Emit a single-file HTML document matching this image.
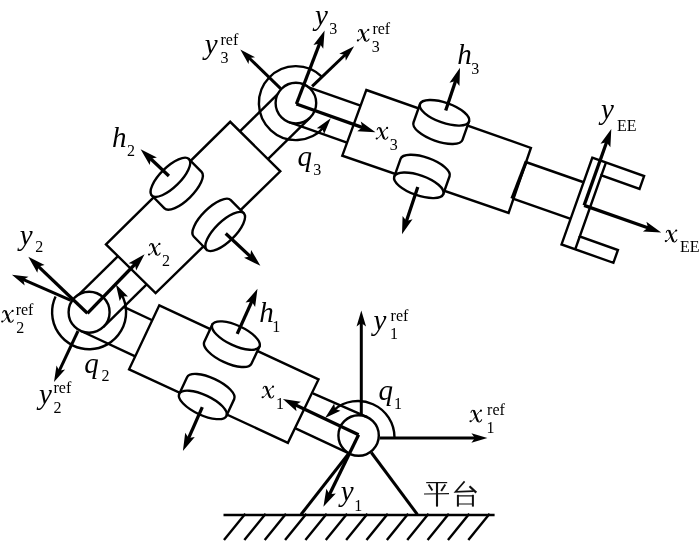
<!DOCTYPE html>
<html><head><meta charset="utf-8"><title>diagram</title>
<style>
html,body{margin:0;padding:0;background:#fff;}
svg{display:block;will-change:transform;filter:grayscale(1);}
text{font-family:"Liberation Serif",serif;fill:#000;stroke:none;}
</style></head><body>
<svg width="700" height="542" viewBox="0 0 700 542" stroke="#000" fill="none">
<rect x="0" y="0" width="700" height="542" fill="#fff" stroke="none"/>
<line x1="223.5" y1="515" x2="494.6" y2="515" stroke-width="2.6" stroke-linecap="butt"/>
<line x1="245.3" y1="513.7" x2="224" y2="540" stroke-width="2.4" stroke-linecap="butt"/>
<line x1="265.66" y1="513.7" x2="244.36" y2="540" stroke-width="2.4" stroke-linecap="butt"/>
<line x1="286.02" y1="513.7" x2="264.72" y2="540" stroke-width="2.4" stroke-linecap="butt"/>
<line x1="306.38" y1="513.7" x2="285.08" y2="540" stroke-width="2.4" stroke-linecap="butt"/>
<line x1="326.74" y1="513.7" x2="305.44" y2="540" stroke-width="2.4" stroke-linecap="butt"/>
<line x1="347.1" y1="513.7" x2="325.8" y2="540" stroke-width="2.4" stroke-linecap="butt"/>
<line x1="367.46" y1="513.7" x2="346.16" y2="540" stroke-width="2.4" stroke-linecap="butt"/>
<line x1="387.82" y1="513.7" x2="366.52" y2="540" stroke-width="2.4" stroke-linecap="butt"/>
<line x1="408.18" y1="513.7" x2="386.88" y2="540" stroke-width="2.4" stroke-linecap="butt"/>
<line x1="428.54" y1="513.7" x2="407.24" y2="540" stroke-width="2.4" stroke-linecap="butt"/>
<line x1="448.9" y1="513.7" x2="427.6" y2="540" stroke-width="2.4" stroke-linecap="butt"/>
<line x1="469.26" y1="513.7" x2="447.96" y2="540" stroke-width="2.4" stroke-linecap="butt"/>
<line x1="489.62" y1="513.7" x2="468.32" y2="540" stroke-width="2.4" stroke-linecap="butt"/>
<line x1="349.5" y1="452.5" x2="301" y2="514.5" stroke-width="3.0" stroke-linecap="butt"/>
<line x1="371.3" y1="452.5" x2="417.4" y2="514.5" stroke-width="3.0" stroke-linecap="butt"/>
<line x1="294.98" y1="428.12" x2="350.06" y2="453.81" stroke-width="2.4" stroke-linecap="butt"/>
<line x1="152.25" y1="320.24" x2="123.71" y2="306.93" stroke-width="2.4" stroke-linecap="butt"/>
<line x1="135.22" y1="356.33" x2="80.44" y2="330.78" stroke-width="2.4" stroke-linecap="butt"/>
<path d="M159.3 305.3 L318.5 379.4 L287.9 442.8 L129.1 369.3 Z" stroke-width="2.4" fill="#fff" stroke-linejoin="miter"/>
<line x1="75.29" y1="298.15" x2="118" y2="256.18" stroke-width="2.4" stroke-linecap="butt"/>
<line x1="103.47" y1="326.82" x2="146.69" y2="284.35" stroke-width="2.4" stroke-linecap="butt"/>
<line x1="282.51" y1="89.48" x2="239.88" y2="131.37" stroke-width="2.4" stroke-linecap="butt"/>
<line x1="310.13" y1="117.58" x2="267.91" y2="159.06" stroke-width="2.4" stroke-linecap="butt"/>
<path d="M106 244.4 L230.2 121.8 L280.3 171.3 L155.6 293.1 Z" stroke-width="2.4" fill="#fff" stroke-linejoin="miter"/>
<line x1="302.28" y1="85.1" x2="360.55" y2="105.73" stroke-width="2.4" stroke-linecap="butt"/>
<line x1="289.12" y1="122.24" x2="347.03" y2="142.74" stroke-width="2.4" stroke-linecap="butt"/>
<path d="M366.3 90 L530.9 147.9 L508.6 212.9 L342.3 155.7 Z" stroke-width="2.4" fill="#fff" stroke-linejoin="miter"/>
<line x1="525.7" y1="162" x2="582.9" y2="182" stroke-width="2.4" stroke-linecap="butt"/>
<line x1="512.9" y1="198.6" x2="570" y2="218.6" stroke-width="2.4" stroke-linecap="butt"/>
<line x1="526.3" y1="161.4" x2="512" y2="198.6" stroke-width="3.3" stroke-linecap="butt"/>
<path d="M592.26 157.74 L644.1 176.1 L639.56 188.92 L601.38 175.4 L579.75 236.48 L617.93 250 L613.39 262.82 L561.54 244.46 Z" stroke-width="2.4" fill="#fff" stroke-linejoin="miter"/>
<line x1="601.38" y1="175.4" x2="605.92" y2="162.58" stroke-width="2.4" stroke-linecap="butt"/>
<line x1="579.75" y1="236.48" x2="575.21" y2="249.3" stroke-width="2.4" stroke-linecap="butt"/>
<g transform="translate(170.4 177.3) rotate(-44.5)">
<path d="M-26 0 L-26 18 A26 10 0 0 0 26 18 L26 0 Z" fill="#fff" stroke-width="2.4"/>
<ellipse cx="0" cy="0" rx="26" ry="10" fill="#fff" stroke-width="2.4"/>
</g>
<g transform="translate(225.2 231.5) rotate(-44.5)">
<path d="M-26 0 L-26 -18.5 A26 10 0 0 1 26 -18.5 L26 0 Z" fill="#fff" stroke-width="2.4"/>
<ellipse cx="0" cy="0" rx="26" ry="10" fill="#fff" stroke-width="2.4"/>
</g>
<g transform="translate(444.5 112.8) rotate(19.5)">
<path d="M-26 0 L-26 19.5 A26 10 0 0 0 26 19.5 L26 0 Z" fill="#fff" stroke-width="2.4"/>
<ellipse cx="0" cy="0" rx="26" ry="10" fill="#fff" stroke-width="2.4"/>
</g>
<g transform="translate(418.8 185.3) rotate(19.5)">
<path d="M-26 0 L-26 -18.8 A26 10 0 0 1 26 -18.8 L26 0 Z" fill="#fff" stroke-width="2.4"/>
<ellipse cx="0" cy="0" rx="26" ry="10" fill="#fff" stroke-width="2.4"/>
</g>
<g transform="translate(235.9 335.6) rotate(25)">
<path d="M-26 0 L-26 19 A26 10 0 0 0 26 19 L26 0 Z" fill="#fff" stroke-width="2.4"/>
<ellipse cx="0" cy="0" rx="26" ry="10" fill="#fff" stroke-width="2.4"/>
</g>
<g transform="translate(202.8 404.9) rotate(25)">
<path d="M-26 0 L-26 -18.5 A26 10 0 0 1 26 -18.5 L26 0 Z" fill="#fff" stroke-width="2.4"/>
<ellipse cx="0" cy="0" rx="26" ry="10" fill="#fff" stroke-width="2.4"/>
</g>
<line x1="168.9" y1="176" x2="150.4" y2="158.48" stroke-width="3.3" stroke-linecap="butt"/>
<path d="M140.6 149.2 L156.92 157.42 L150.77 158.83 L149.7 165.04 Z" fill="#000" stroke="none"/>
<line x1="225.7" y1="233.5" x2="250.52" y2="256.6" stroke-width="3.3" stroke-linecap="butt"/>
<path d="M260.4 265.8 L244.01 257.72 L250.15 256.26 L251.17 250.03 Z" fill="#000" stroke="none"/>
<line x1="445.7" y1="110.6" x2="455.73" y2="80.51" stroke-width="3.3" stroke-linecap="butt"/>
<path d="M460 67.7 L459.45 85.96 L455.57 80.98 L449.49 82.64 Z" fill="#000" stroke="none"/>
<line x1="417.8" y1="187" x2="406.29" y2="221.4" stroke-width="3.3" stroke-linecap="butt"/>
<path d="M402 234.2 L402.58 215.94 L406.44 220.92 L412.53 219.27 Z" fill="#000" stroke="none"/>
<line x1="237.2" y1="333.9" x2="251.96" y2="301.11" stroke-width="3.3" stroke-linecap="butt"/>
<path d="M257.5 288.8 L255.1 306.91 L251.75 301.57 L245.53 302.6 Z" fill="#000" stroke="none"/>
<line x1="202.3" y1="407.2" x2="188.38" y2="438.56" stroke-width="3.3" stroke-linecap="butt"/>
<path d="M182.9 450.9 L185.2 432.78 L188.58 438.1 L194.8 437.04 Z" fill="#000" stroke="none"/>
<circle cx="358.6" cy="435.5" r="20.2" stroke-width="2.4" fill="#fff"/>
<line x1="312.9" y1="393.3" x2="367.2" y2="417.1" stroke-width="2.4" stroke-linecap="butt"/>
<path d="M394.5 437.5 A36.5 36.5 0 0 0 333.88 410.11" stroke-width="2.4" fill="none"/>
<path d="M325 418.06 L334.19 403.56 L335.1 409.1 L340.49 410.66 Z" fill="#000" stroke="none"/>
<path d="M55.57 296.56 A37 37 0 1 0 121.67 294.65" stroke-width="2.4" fill="none"/>
<path d="M115.82 284.34 L127.99 296.45 L122.38 296.14 L119.69 301.07 Z" fill="#000" stroke="none"/>
<circle cx="89.1" cy="312.2" r="20.5" stroke-width="2.4" fill="#fff"/>
<path d="M322.06 76.94 A37 37 0 1 0 323.66 127.56" stroke-width="2.4" fill="none"/>
<path d="M330.75 118.25 L324.16 134.11 L322.32 128.8 L316.74 128.18 Z" fill="#000" stroke="none"/>
<circle cx="295.9" cy="103.1" r="20.3" stroke-width="2.4" fill="#fff"/>
<!--AXES-->
<line x1="361.3" y1="415" x2="361.3" y2="322.5" stroke-width="3.0" stroke-linecap="butt"/>
<path d="M361.3 310.5 L366.05 326.5 L361.3 323 L356.55 326.5 Z" fill="#000" stroke="none"/>
<line x1="379.6" y1="437.9" x2="475.4" y2="437.9" stroke-width="3.0" stroke-linecap="butt"/>
<path d="M487.4 437.9 L471.4 442.65 L474.9 437.9 L471.4 433.15 Z" fill="#000" stroke="none"/>
<line x1="358.6" y1="434.7" x2="295.1" y2="404.67" stroke-width="3.3" stroke-linecap="butt"/>
<path d="M282.9 398.9 L300.96 401.64 L295.56 404.89 L296.48 411.13 Z" fill="#000" stroke="none"/>
<line x1="358.6" y1="434.7" x2="329.32" y2="494.67" stroke-width="3.3" stroke-linecap="butt"/>
<path d="M323.4 506.8 L326.36 488.77 L329.54 494.22 L335.8 493.38 Z" fill="#000" stroke="none"/>
<line x1="87.4" y1="313.3" x2="135.2" y2="263.99" stroke-width="3.3" stroke-linecap="butt"/>
<path d="M144.6 254.3 L136.19 270.52 L134.86 264.35 L128.65 263.21 Z" fill="#000" stroke="none"/>
<line x1="87.4" y1="313.3" x2="38.06" y2="266.13" stroke-width="3.3" stroke-linecap="butt"/>
<path d="M28.3 256.8 L44.58 265.1 L38.42 266.47 L37.32 272.69 Z" fill="#000" stroke="none"/>
<line x1="70.9" y1="300.3" x2="22.91" y2="279.48" stroke-width="3.0" stroke-linecap="butt"/>
<path d="M11.9 274.7 L28.47 276.71 L23.37 279.68 L24.69 285.43 Z" fill="#000" stroke="none"/>
<line x1="78" y1="331" x2="59.11" y2="371.14" stroke-width="3.0" stroke-linecap="butt"/>
<path d="M54 382 L56.51 365.5 L59.32 370.69 L65.11 369.55 Z" fill="#000" stroke="none"/>
<line x1="296.4" y1="104" x2="319.76" y2="43.1" stroke-width="3.3" stroke-linecap="butt"/>
<path d="M324.6 30.5 L323.23 48.72 L319.59 43.57 L313.43 44.96 Z" fill="#000" stroke="none"/>
<line x1="296.4" y1="104" x2="362.78" y2="127.67" stroke-width="3.3" stroke-linecap="butt"/>
<path d="M375.5 132.2 L357.25 131.27 L362.31 127.5 L360.78 121.38 Z" fill="#000" stroke="none"/>
<line x1="312.1" y1="86.4" x2="345.43" y2="54.5" stroke-width="3.0" stroke-linecap="butt"/>
<path d="M354.1 46.2 L345.83 60.69 L345.07 54.84 L339.26 53.83 Z" fill="#000" stroke="none"/>
<line x1="280.7" y1="88.6" x2="248.91" y2="57.76" stroke-width="3.0" stroke-linecap="butt"/>
<path d="M240.3 49.4 L255.09 57.13 L249.27 58.1 L248.48 63.95 Z" fill="#000" stroke="none"/>
<line x1="584.1" y1="205.4" x2="606.77" y2="141.82" stroke-width="3.3" stroke-linecap="butt"/>
<path d="M611.3 129.1 L610.37 147.35 L606.6 142.29 L600.48 143.82 Z" fill="#000" stroke="none"/>
<line x1="584.1" y1="205.4" x2="648.46" y2="227.94" stroke-width="3.3" stroke-linecap="butt"/>
<path d="M661.2 232.4 L642.95 231.57 L647.99 227.77 L646.42 221.66 Z" fill="#000" stroke="none"/>
<!--LABELS-->
<text x="315.1" y="24.8" font-size="29" font-style="italic">y</text>
<text x="329.3" y="34" font-size="16" font-style="normal">3</text>
<g transform="translate(349.4 19.2) scale(0.07143)" stroke="#000" fill="none" stroke-linecap="round">
<path d="M166 148 C186 190 200 262 224 300" stroke-width="31" stroke-linecap="butt"/>
<path d="M126 174 C130 148 152 132 172 154" stroke-width="14"/>
<path d="M218 294 C236 322 262 304 275 276" stroke-width="14"/>
<path d="M122 300 C150 300 168 252 196 222 C216 198 236 158 262 150" stroke-width="11.5"/>
<circle cx="119" cy="297" r="15" fill="#000" stroke="none"/>
<circle cx="265" cy="149" r="15" fill="#000" stroke="none"/>
</g>
<text x="371.8" y="51.9" font-size="16" font-style="normal">3</text>
<text x="372.4" y="33.6" font-size="16" font-style="normal">ref</text>
<text x="204.7" y="53.6" font-size="29" font-style="italic">y</text>
<text x="220.5" y="62.9" font-size="16" font-style="normal">3</text>
<text x="220.5" y="45" font-size="16" font-style="normal">ref</text>
<g transform="translate(368.2 117.3) scale(0.07143)" stroke="#000" fill="none" stroke-linecap="round">
<path d="M166 148 C186 190 200 262 224 300" stroke-width="31" stroke-linecap="butt"/>
<path d="M126 174 C130 148 152 132 172 154" stroke-width="14"/>
<path d="M218 294 C236 322 262 304 275 276" stroke-width="14"/>
<path d="M122 300 C150 300 168 252 196 222 C216 198 236 158 262 150" stroke-width="11.5"/>
<circle cx="119" cy="297" r="15" fill="#000" stroke="none"/>
<circle cx="265" cy="149" r="15" fill="#000" stroke="none"/>
</g>
<text x="389.7" y="150.4" font-size="16" font-style="normal">3</text>
<text x="297.5" y="165.7" font-size="29" font-style="italic">q</text>
<text x="313.2" y="175.2" font-size="16" font-style="normal">3</text>
<text x="457.2" y="63.9" font-size="29" font-style="italic">h</text>
<text x="471.2" y="74.1" font-size="16" font-style="normal">3</text>
<text x="112" y="146.5" font-size="29" font-style="italic">h</text>
<text x="127" y="156" font-size="16" font-style="normal">2</text>
<text x="19.8" y="244.7" font-size="29" font-style="italic">y</text>
<text x="35.2" y="252.3" font-size="16" font-style="normal">2</text>
<g transform="translate(140.5 233.3) scale(0.07143)" stroke="#000" fill="none" stroke-linecap="round">
<path d="M166 148 C186 190 200 262 224 300" stroke-width="31" stroke-linecap="butt"/>
<path d="M126 174 C130 148 152 132 172 154" stroke-width="14"/>
<path d="M218 294 C236 322 262 304 275 276" stroke-width="14"/>
<path d="M122 300 C150 300 168 252 196 222 C216 198 236 158 262 150" stroke-width="11.5"/>
<circle cx="119" cy="297" r="15" fill="#000" stroke="none"/>
<circle cx="265" cy="149" r="15" fill="#000" stroke="none"/>
</g>
<text x="162" y="265.7" font-size="16" font-style="normal">2</text>
<g transform="translate(-6.3 300.3) scale(0.07143)" stroke="#000" fill="none" stroke-linecap="round">
<path d="M166 148 C186 190 200 262 224 300" stroke-width="31" stroke-linecap="butt"/>
<path d="M126 174 C130 148 152 132 172 154" stroke-width="14"/>
<path d="M218 294 C236 322 262 304 275 276" stroke-width="14"/>
<path d="M122 300 C150 300 168 252 196 222 C216 198 236 158 262 150" stroke-width="11.5"/>
<circle cx="119" cy="297" r="15" fill="#000" stroke="none"/>
<circle cx="265" cy="149" r="15" fill="#000" stroke="none"/>
</g>
<text x="16.2" y="332.5" font-size="16" font-style="normal">2</text>
<text x="15.7" y="314.9" font-size="16" font-style="normal">ref</text>
<text x="84.3" y="372.5" font-size="29" font-style="italic">q</text>
<text x="101.6" y="381" font-size="16" font-style="normal">2</text>
<text x="39" y="404" font-size="29" font-style="italic">y</text>
<text x="53.5" y="413" font-size="16" font-style="normal">2</text>
<text x="53.5" y="393" font-size="16" font-style="normal">ref</text>
<text x="259.2" y="321.7" font-size="29" font-style="italic">h</text>
<text x="272.2" y="332" font-size="16" font-style="normal">1</text>
<g transform="translate(254.1 376) scale(0.07143)" stroke="#000" fill="none" stroke-linecap="round">
<path d="M166 148 C186 190 200 262 224 300" stroke-width="31" stroke-linecap="butt"/>
<path d="M126 174 C130 148 152 132 172 154" stroke-width="14"/>
<path d="M218 294 C236 322 262 304 275 276" stroke-width="14"/>
<path d="M122 300 C150 300 168 252 196 222 C216 198 236 158 262 150" stroke-width="11.5"/>
<circle cx="119" cy="297" r="15" fill="#000" stroke="none"/>
<circle cx="265" cy="149" r="15" fill="#000" stroke="none"/>
</g>
<text x="276.1" y="409.3" font-size="16" font-style="normal">1</text>
<text x="373.6" y="329.8" font-size="29" font-style="italic">y</text>
<text x="390" y="338.8" font-size="16" font-style="normal">1</text>
<text x="390.6" y="321.2" font-size="16" font-style="normal">ref</text>
<text x="378.6" y="400.3" font-size="29" font-style="italic">q</text>
<text x="394" y="409" font-size="16" font-style="normal">1</text>
<g transform="translate(462 400) scale(0.07143)" stroke="#000" fill="none" stroke-linecap="round">
<path d="M166 148 C186 190 200 262 224 300" stroke-width="31" stroke-linecap="butt"/>
<path d="M126 174 C130 148 152 132 172 154" stroke-width="14"/>
<path d="M218 294 C236 322 262 304 275 276" stroke-width="14"/>
<path d="M122 300 C150 300 168 252 196 222 C216 198 236 158 262 150" stroke-width="11.5"/>
<circle cx="119" cy="297" r="15" fill="#000" stroke="none"/>
<circle cx="265" cy="149" r="15" fill="#000" stroke="none"/>
</g>
<text x="486.4" y="433.1" font-size="16" font-style="normal">1</text>
<text x="487.1" y="415" font-size="16" font-style="normal">ref</text>
<text x="340.7" y="501" font-size="29" font-style="italic">y</text>
<text x="354.2" y="511" font-size="16" font-style="normal">1</text>
<text x="601" y="118.5" font-size="29" font-style="italic">y</text>
<text x="616.9" y="130.5" font-size="16" font-style="normal">EE</text>
<g transform="translate(657.3 219.9) scale(0.07143)" stroke="#000" fill="none" stroke-linecap="round">
<path d="M166 148 C186 190 200 262 224 300" stroke-width="31" stroke-linecap="butt"/>
<path d="M126 174 C130 148 152 132 172 154" stroke-width="14"/>
<path d="M218 294 C236 322 262 304 275 276" stroke-width="14"/>
<path d="M122 300 C150 300 168 252 196 222 C216 198 236 158 262 150" stroke-width="11.5"/>
<circle cx="119" cy="297" r="15" fill="#000" stroke="none"/>
<circle cx="265" cy="149" r="15" fill="#000" stroke="none"/>
</g>
<text x="679.9" y="252.4" font-size="16" font-style="normal">EE</text>
<!--CJK-->
<g stroke="#111" fill="none" stroke-linecap="butt">
<path d="M426.2 482.6 H447.2" stroke-width="1.2"/>
<path d="M424 494 L449 493.6" stroke-width="1.2"/>
<path d="M437 482.8 V506.6" stroke-width="2.1"/>
<path d="M428.6 484.6 L432.4 490.6" stroke-width="1.9"/>
<path d="M445.3 484.6 L441.2 491" stroke-width="1.9"/>
<path d="M464.6 481.4 L455.4 491.9 L473.6 491.1" stroke-width="1.6" stroke-linejoin="miter"/>
<path d="M469.5 486.2 L476.3 492.6" stroke-width="2.2"/>
<path d="M457.9 494.8 V506.6" stroke-width="2"/>
<path d="M472.9 494.8 V506.6" stroke-width="2"/>
<path d="M457.9 495.8 H472.9 M457.9 504 H472.9" stroke-width="1.2"/>
</g>
</svg>
</body></html>
